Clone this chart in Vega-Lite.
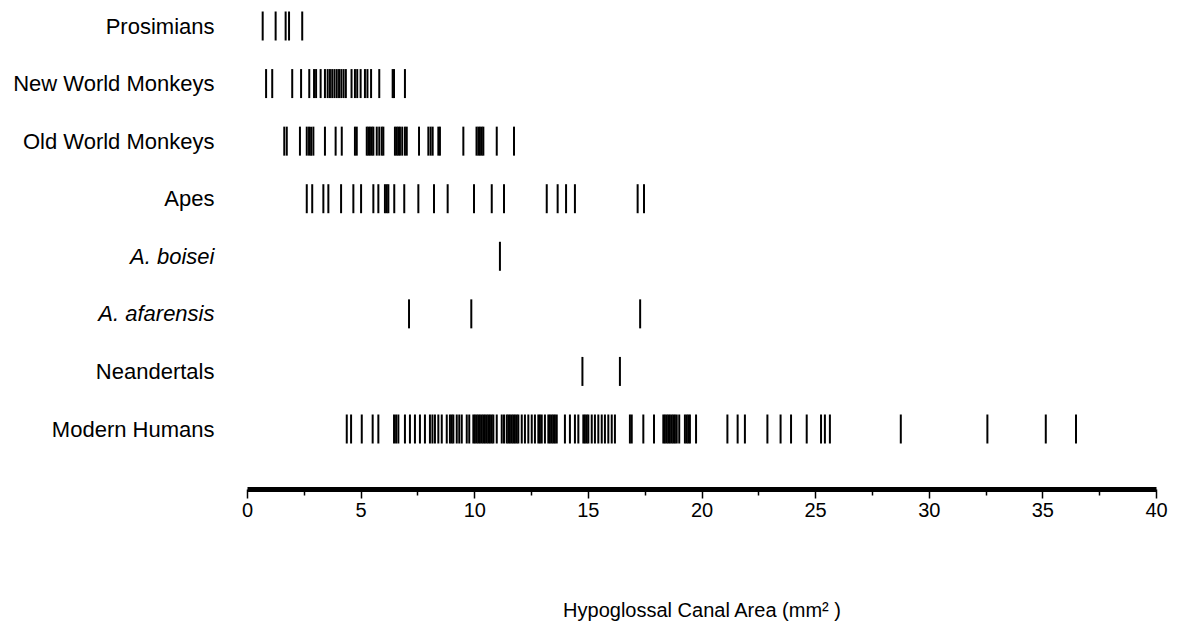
{
  "$schema": "https://vega.github.io/schema/vega-lite/v6.json",
  "autosize": "none",
  "width": 909,
  "height": 487,
  "padding": {"left": 247, "top": 0, "right": 21, "bottom": 141},
  "background": "white",
  "config": {"view": {"stroke": null}, "font": "Liberation Sans"},
  "datasets": {
    "d": [
      {"g":"Prosimians","v":0.69},{"g":"Prosimians","v":1.26},{"g":"Prosimians","v":1.70},{"g":"Prosimians","v":1.85},{"g":"Prosimians","v":2.43},
      {"g":"New World Monkeys","v":0.84},{"g":"New World Monkeys","v":1.11},{"g":"New World Monkeys","v":1.99},{"g":"New World Monkeys","v":2.38},{"g":"New World Monkeys","v":2.74},{"g":"New World Monkeys","v":2.95},{"g":"New World Monkeys","v":3.04},{"g":"New World Monkeys","v":3.24},{"g":"New World Monkeys","v":3.43},{"g":"New World Monkeys","v":3.55},{"g":"New World Monkeys","v":3.65},{"g":"New World Monkeys","v":3.75},{"g":"New World Monkeys","v":3.85},{"g":"New World Monkeys","v":3.95},{"g":"New World Monkeys","v":4.05},{"g":"New World Monkeys","v":4.15},{"g":"New World Monkeys","v":4.25},{"g":"New World Monkeys","v":4.35},{"g":"New World Monkeys","v":4.6},{"g":"New World Monkeys","v":4.75},{"g":"New World Monkeys","v":4.85},{"g":"New World Monkeys","v":5.0},{"g":"New World Monkeys","v":5.19},{"g":"New World Monkeys","v":5.3},{"g":"New World Monkeys","v":5.46},{"g":"New World Monkeys","v":5.82},{"g":"New World Monkeys","v":6.41},{"g":"New World Monkeys","v":6.47},{"g":"New World Monkeys","v":6.95},
      {"g":"Old World Monkeys","v":1.64},{"g":"Old World Monkeys","v":1.75},{"g":"Old World Monkeys","v":2.33},{"g":"Old World Monkeys","v":2.63},{"g":"Old World Monkeys","v":2.73},{"g":"Old World Monkeys","v":2.82},{"g":"Old World Monkeys","v":2.92},{"g":"Old World Monkeys","v":3.43},{"g":"Old World Monkeys","v":3.90},{"g":"Old World Monkeys","v":4.17},{"g":"Old World Monkeys","v":4.75},{"g":"Old World Monkeys","v":4.83},{"g":"Old World Monkeys","v":5.27},{"g":"Old World Monkeys","v":5.34},{"g":"Old World Monkeys","v":5.41},{"g":"Old World Monkeys","v":5.49},{"g":"Old World Monkeys","v":5.56},{"g":"Old World Monkeys","v":5.71},{"g":"Old World Monkeys","v":5.82},{"g":"Old World Monkeys","v":5.93},{"g":"Old World Monkeys","v":6.0},{"g":"Old World Monkeys","v":6.51},{"g":"Old World Monkeys","v":6.59},{"g":"Old World Monkeys","v":6.66},{"g":"Old World Monkeys","v":6.73},{"g":"Old World Monkeys","v":6.83},{"g":"Old World Monkeys","v":6.95},{"g":"Old World Monkeys","v":7.03},{"g":"Old World Monkeys","v":7.57},{"g":"Old World Monkeys","v":7.98},{"g":"Old World Monkeys","v":8.08},{"g":"Old World Monkeys","v":8.17},{"g":"Old World Monkeys","v":8.42},{"g":"Old World Monkeys","v":8.49},{"g":"Old World Monkeys","v":9.52},{"g":"Old World Monkeys","v":10.1},{"g":"Old World Monkeys","v":10.18},{"g":"Old World Monkeys","v":10.25},{"g":"Old World Monkeys","v":10.33},{"g":"Old World Monkeys","v":10.4},{"g":"Old World Monkeys","v":10.99},{"g":"Old World Monkeys","v":11.75},
      {"g":"Apes","v":2.63},{"g":"Apes","v":2.87},{"g":"Apes","v":3.36},{"g":"Apes","v":3.58},{"g":"Apes","v":4.14},{"g":"Apes","v":4.68},{"g":"Apes","v":5.02},{"g":"Apes","v":5.56},{"g":"Apes","v":5.78},{"g":"Apes","v":6.07},{"g":"Apes","v":6.15},{"g":"Apes","v":6.22},{"g":"Apes","v":6.48},{"g":"Apes","v":6.92},{"g":"Apes","v":7.54},{"g":"Apes","v":8.23},{"g":"Apes","v":8.83},{"g":"Apes","v":9.99},{"g":"Apes","v":10.77},{"g":"Apes","v":11.31},{"g":"Apes","v":13.19},{"g":"Apes","v":13.67},{"g":"Apes","v":14.04},{"g":"Apes","v":14.43},{"g":"Apes","v":17.19},{"g":"Apes","v":17.47},
      {"g":"A. boisei","v":11.13},
      {"g":"A. afarensis","v":7.13},{"g":"A. afarensis","v":9.87},{"g":"A. afarensis","v":17.3},
      {"g":"Neandertals","v":14.76},{"g":"Neandertals","v":16.41},
      {"g":"Modern Humans","v":4.39},{"g":"Modern Humans","v":4.58},{"g":"Modern Humans","v":5.05},{"g":"Modern Humans","v":5.53},{"g":"Modern Humans","v":5.78},{"g":"Modern Humans","v":6.47},{"g":"Modern Humans","v":6.56},{"g":"Modern Humans","v":6.66},{"g":"Modern Humans","v":6.95},{"g":"Modern Humans","v":7.17},{"g":"Modern Humans","v":7.39},{"g":"Modern Humans","v":7.61},{"g":"Modern Humans","v":7.83},{"g":"Modern Humans","v":8.05},{"g":"Modern Humans","v":8.16},{"g":"Modern Humans","v":8.27},{"g":"Modern Humans","v":8.42},{"g":"Modern Humans","v":8.57},{"g":"Modern Humans","v":8.79},{"g":"Modern Humans","v":8.93},{"g":"Modern Humans","v":9.01},{"g":"Modern Humans","v":9.08},{"g":"Modern Humans","v":9.23},{"g":"Modern Humans","v":9.34},{"g":"Modern Humans","v":9.45},{"g":"Modern Humans","v":9.67},{"g":"Modern Humans","v":9.78},{"g":"Modern Humans","v":9.96},{"g":"Modern Humans","v":10.03},{"g":"Modern Humans","v":10.11},{"g":"Modern Humans","v":10.18},{"g":"Modern Humans","v":10.25},{"g":"Modern Humans","v":10.33},{"g":"Modern Humans","v":10.4},{"g":"Modern Humans","v":10.47},{"g":"Modern Humans","v":10.55},{"g":"Modern Humans","v":10.62},{"g":"Modern Humans","v":10.69},{"g":"Modern Humans","v":10.77},{"g":"Modern Humans","v":10.84},{"g":"Modern Humans","v":10.99},{"g":"Modern Humans","v":11.21},{"g":"Modern Humans","v":11.31},{"g":"Modern Humans","v":11.43},{"g":"Modern Humans","v":11.5},{"g":"Modern Humans","v":11.57},{"g":"Modern Humans","v":11.65},{"g":"Modern Humans","v":11.72},{"g":"Modern Humans","v":11.79},{"g":"Modern Humans","v":11.87},{"g":"Modern Humans","v":11.94},{"g":"Modern Humans","v":12.09},{"g":"Modern Humans","v":12.23},{"g":"Modern Humans","v":12.38},{"g":"Modern Humans","v":12.53},{"g":"Modern Humans","v":12.67},{"g":"Modern Humans","v":12.82},{"g":"Modern Humans","v":12.89},{"g":"Modern Humans","v":12.97},{"g":"Modern Humans","v":13.11},{"g":"Modern Humans","v":13.26},{"g":"Modern Humans","v":13.33},{"g":"Modern Humans","v":13.41},{"g":"Modern Humans","v":13.48},{"g":"Modern Humans","v":13.55},{"g":"Modern Humans","v":13.63},{"g":"Modern Humans","v":13.99},{"g":"Modern Humans","v":14.21},{"g":"Modern Humans","v":14.43},{"g":"Modern Humans","v":14.58},{"g":"Modern Humans","v":14.8},{"g":"Modern Humans","v":14.87},{"g":"Modern Humans","v":14.95},{"g":"Modern Humans","v":15.02},{"g":"Modern Humans","v":15.17},{"g":"Modern Humans","v":15.31},{"g":"Modern Humans","v":15.46},{"g":"Modern Humans","v":15.61},{"g":"Modern Humans","v":15.75},{"g":"Modern Humans","v":15.9},{"g":"Modern Humans","v":16.05},{"g":"Modern Humans","v":16.19},{"g":"Modern Humans","v":16.85},{"g":"Modern Humans","v":16.93},{"g":"Modern Humans","v":17.44},{"g":"Modern Humans","v":17.91},{"g":"Modern Humans","v":18.32},{"g":"Modern Humans","v":18.39},{"g":"Modern Humans","v":18.47},{"g":"Modern Humans","v":18.54},{"g":"Modern Humans","v":18.61},{"g":"Modern Humans","v":18.69},{"g":"Modern Humans","v":18.76},{"g":"Modern Humans","v":18.83},{"g":"Modern Humans","v":18.91},{"g":"Modern Humans","v":19.02},{"g":"Modern Humans","v":19.27},{"g":"Modern Humans","v":19.35},{"g":"Modern Humans","v":19.42},{"g":"Modern Humans","v":19.49},{"g":"Modern Humans","v":19.76},{"g":"Modern Humans","v":21.14},{"g":"Modern Humans","v":21.59},{"g":"Modern Humans","v":21.91},{"g":"Modern Humans","v":22.9},{"g":"Modern Humans","v":23.48},{"g":"Modern Humans","v":23.94},{"g":"Modern Humans","v":24.63},{"g":"Modern Humans","v":25.26},{"g":"Modern Humans","v":25.43},{"g":"Modern Humans","v":25.65},{"g":"Modern Humans","v":28.77},{"g":"Modern Humans","v":32.58},{"g":"Modern Humans","v":35.15},{"g":"Modern Humans","v":36.48}
    ]
  },
  "data": {"name": "d"},
  "mark": {"type": "tick", "orient": "vertical", "size": 29, "thickness": 2, "color": "black", "opacity": 1},
  "encoding": {
    "x": {
      "field": "v", "type": "quantitative",
      "scale": {"domain": [0, 40], "nice": false, "zero": false},
      "axis": {
        "title": "Hypoglossal Canal Area (mm² )",
        "titleFontSize": 20, "titleFontWeight": "normal", "titleColor": "black", "titlePadding": 80,
        "values": [0, 2.5, 5, 7.5, 10, 12.5, 15, 17.5, 20, 22.5, 25, 27.5, 30, 32.5, 35, 37.5, 40],
        "labelExpr": "datum.value % 5 === 0 ? datum.label : ''",
        "labelFontSize": 20, "labelColor": "black", "labelPadding": 2, "labelFlush": false,
        "tickSize": {"condition": {"test": "datum.value % 5 === 0", "value": 9}, "value": 6},
        "tickWidth": 1.5, "tickColor": "black",
        "domainWidth": 5, "domainColor": "black", "offset": 2,
        "grid": false
      }
    },
    "y": {
      "field": "g", "type": "nominal",
      "scale": {"type": "point", "domain": ["Prosimians", "New World Monkeys", "Old World Monkeys", "Apes", "A. boisei", "A. afarensis", "Neandertals", "Modern Humans"], "range": [26, 429], "padding": 0},
      "axis": {
        "title": null, "domain": false, "ticks": false, "grid": false,
        "labelFontSize": 22, "labelColor": "black", "labelPadding": 33, "labelAlign": "right", "labelLimit": 0,
        "labelFontStyle": {"condition": {"test": "indexof(datum.value, 'A.') === 0", "value": "italic"}, "value": "normal"}
      }
    }
  }
}
